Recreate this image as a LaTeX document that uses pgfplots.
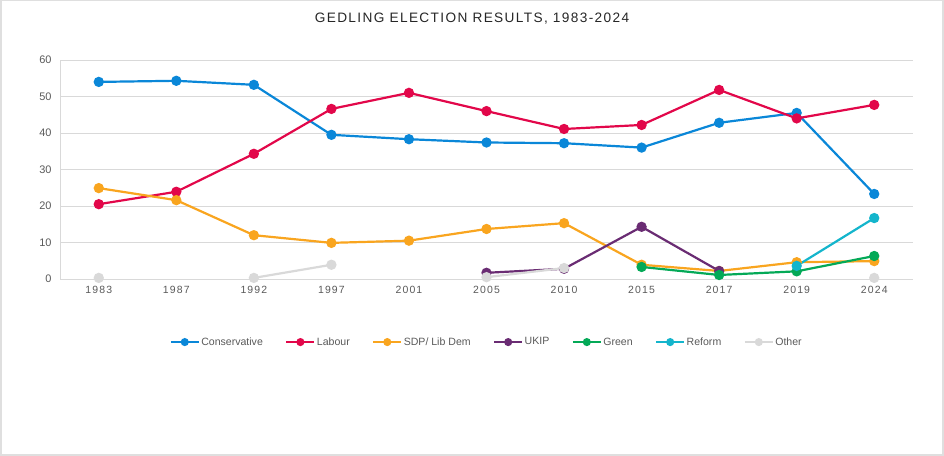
\documentclass[border=0pt]{standalone}
\usepackage{fontspec}
\setmainfont{Liberation Sans}
\newfontfamily\spacedfont[LetterSpace=11]{Liberation Sans}
\newfontfamily\titlefont[LetterSpace=10]{Liberation Sans}
\usepackage{pgfplots}
\pgfplotsset{compat=1.18}
\definecolor{con}{HTML}{0A87D8}
\definecolor{lab}{HTML}{E2074A}
\definecolor{ld}{HTML}{F9A51F}
\definecolor{ukip}{HTML}{6A2C73}
\definecolor{grn}{HTML}{04A957}
\definecolor{ref}{HTML}{14B5CC}
\definecolor{oth}{HTML}{D9D9D9}
\definecolor{tickgray}{HTML}{595959}
\definecolor{gridgray}{HTML}{D9D9D9}
\begin{document}
\begin{tikzpicture}
\useasboundingbox (0,0) rectangle (944bp,456bp);
\draw[gray!25,line width=1.2bp] (1bp,1bp) rectangle (943bp,455.5bp);
\node[font=\titlefont\fontsize{13.7}{15}\selectfont,text=black!85] at (472bp,437bp) {GEDLING ELECTION RESULTS, 1983-2024};
\begin{axis}[
  at={(60bp,177bp)}, anchor=south west,
  scale only axis, width=853bp, height=219bp,
  xmin=-0.5, xmax=10.5, ymin=0, ymax=60,
  xtick={0,1,2,3,4,5,6,7,8,9,10},
  xticklabels={1983,1987,1992,1997,2001,2005,2010,2015,2017,2019,2024},
  ytick={0,10,20,30,40,50,60},
  major tick length=0,
  axis x line*=bottom, axis y line*=left,
  axis line style={draw=gridgray,line width=0.9bp,-},
  ymajorgrids, grid style={draw=gridgray,line width=0.9bp},
  xticklabel style={font=\spacedfont\fontsize{10.5}{12}\selectfont,text=tickgray,yshift=-4bp},
  yticklabel style={font=\fontsize{11}{12}\selectfont,text=tickgray,xshift=-5bp},
  /pgf/number format/assume math mode=true,
  unbounded coords=jump,
  every axis plot/.append style={line width=2.2bp, mark=*, mark size=4bp},
  legend columns=-1,
  legend style={at={(0.5,-0.288)}, anchor=center, draw=none, fill=none,
    font=\fontsize{10.6}{12}\selectfont, text=tickgray,
    nodes={inner sep=1.5bp},
    /tikz/every even column/.append style={column sep=21bp}},
  legend image code/.code={
    \draw[mark repeat=2,mark phase=2,mark size=3bp,line width=2bp] plot coordinates {(0bp,0bp) (14bp,0bp) (28bp,0bp)};
  },
]
\addplot[con, mark options={fill=con,draw=con}] coordinates {(0,54.0) (1,54.3) (2,53.2) (3,39.5) (4,38.3) (5,37.4) (6,37.2) (7,36.0) (8,42.8) (9,45.5) (10,23.3)};
\addlegendentry{Conservative}
\addplot[lab, mark options={fill=lab,draw=lab}] coordinates {(0,20.5) (1,23.9) (2,34.3) (3,46.6) (4,51.0) (5,46.0) (6,41.1) (7,42.2) (8,51.8) (9,44.0) (10,47.7)};
\addlegendentry{Labour}
\addplot[ld, mark options={fill=ld,draw=ld}] coordinates {(0,24.9) (1,21.6) (2,12.0) (3,9.9) (4,10.5) (5,13.7) (6,15.3) (7,3.9) (8,2.2) (9,4.6) (10,4.9)};
\addlegendentry{SDP/ Lib Dem}
\addplot[ukip, mark options={fill=ukip,draw=ukip}] coordinates {(5,1.7) (6,2.8) (7,14.3) (8,2.2)};
\addlegendentry{UKIP}
\addplot[grn, mark options={fill=grn,draw=grn}] coordinates {(7,3.3) (8,1.1) (9,2.1) (10,6.3)};
\addlegendentry{Green}
\addplot[ref, mark options={fill=ref,draw=ref}] coordinates {(9,3.6) (10,16.7)};
\addlegendentry{Reform}
\addplot[oth, mark options={fill=oth,draw=oth}] coordinates {(0,0.3) (1,nan) (2,0.3) (3,3.9) (4,nan) (5,0.5) (6,3.0) (7,nan) (8,nan) (9,nan) (10,0.3)};
\addlegendentry{Other}
\end{axis}
\end{tikzpicture}
\end{document}
